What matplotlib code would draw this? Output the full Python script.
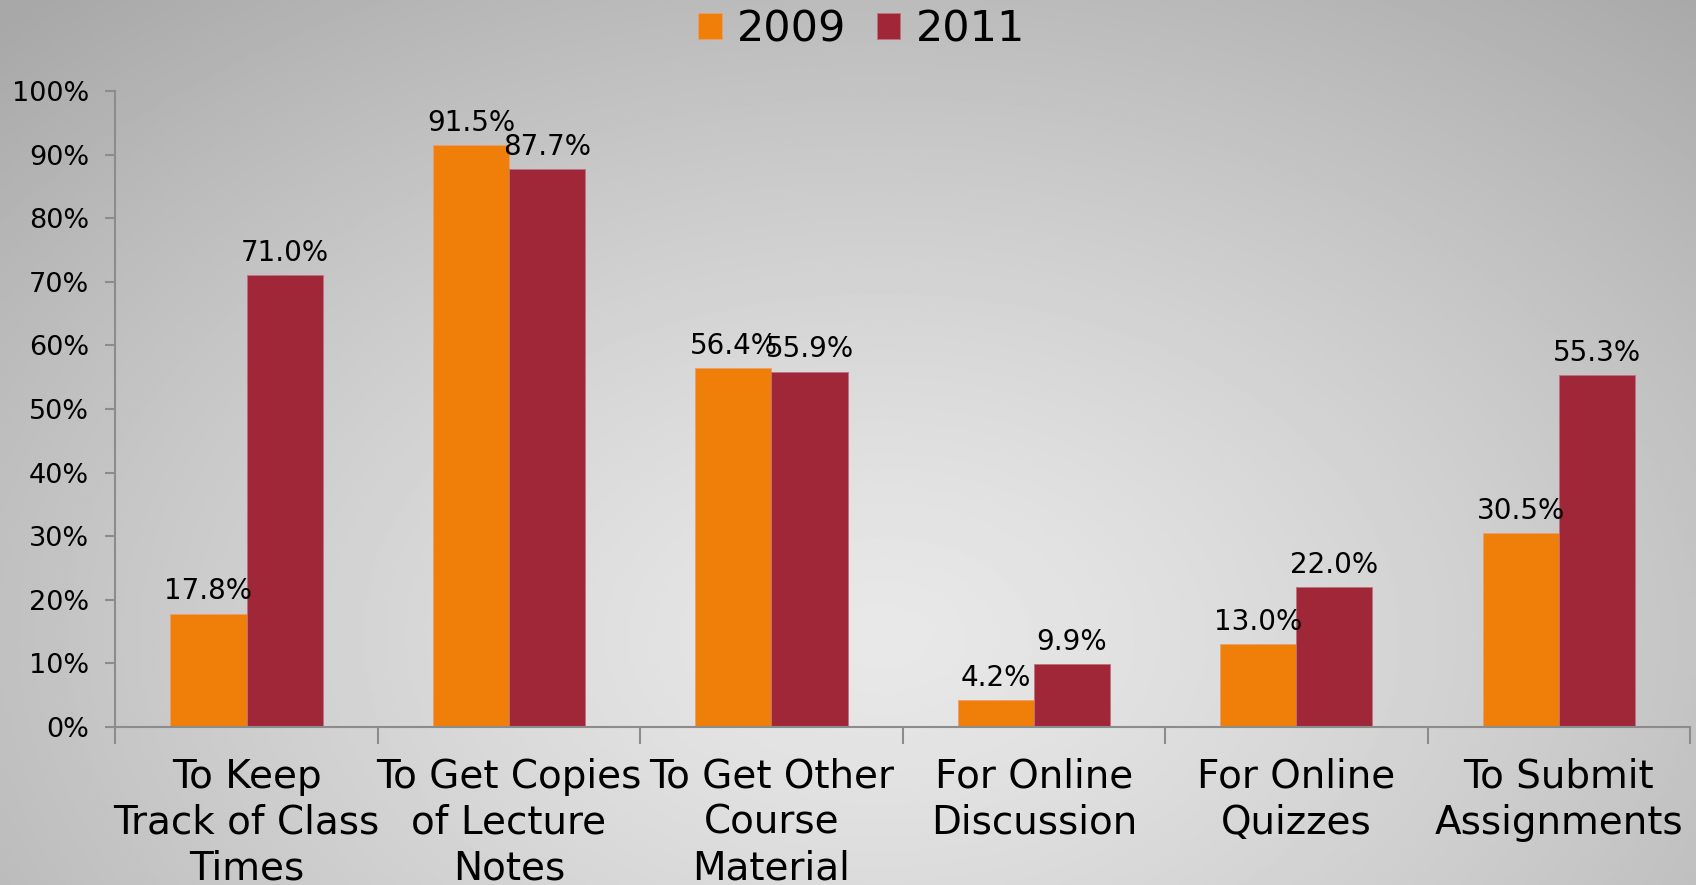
import numpy as np
import matplotlib.pyplot as plt

# DATA
categories = ["To Keep\nTrack of Class\nTimes", "To Get Copies\nof Lecture\nNotes",
              "To Get Other\nCourse\nMaterial", "For Online\nDiscussion",
              "For Online\nQuizzes", "To Submit\nAssignments"]
years = ["2009", "2011"]
vals_2009 = [17.8, 91.5, 56.4, 4.2, 13.0, 30.5]
vals_2011 = [71.0, 87.7, 55.9, 9.9, 22.0, 55.3]
yticks = [0, 10, 20, 30, 40, 50, 60, 70, 80, 90, 100]

C_2009 = '#F07F09'
C_2011 = '#A02737'

plt.rcParams['font.family'] = ['DejaVu Sans']

fig = plt.figure(figsize=(16.96, 8.85), dpi=100)

# BACKGROUND - radial grey gradient
bg = fig.add_axes([0, 0, 1, 1])
gx, gy = np.meshgrid(np.linspace(0, 1, 400), np.linspace(0, 1, 400))
r = np.sqrt(((gx - 0.52) / 0.75) ** 2 + ((gy - 0.72) / 0.95) ** 2)
shade = 0.91 - 0.25 * np.clip(r, 0, 1) ** 1.3
bg.imshow(shade, cmap='gray', vmin=0, vmax=1, extent=[0, 1, 0, 1],
          aspect='auto', origin='upper')
bg.axis('off')

ax = fig.add_axes([0.068, 0.1785, 0.9285, 0.7186])
ax.patch.set_alpha(0)

x = np.arange(len(categories))
w = 0.29
b1 = ax.bar(x - w / 2, vals_2009, w, color=C_2009, edgecolor='#e8a070',
            linewidth=0.6, label=years[0])
b2 = ax.bar(x + w / 2, vals_2011, w, color=C_2011, edgecolor='#c07080',
            linewidth=0.6, label=years[1])

# value labels (the 56.4% / 55.9% pair overlaps in the original too)
for bars, vals in ((b1, vals_2009), (b2, vals_2011)):
    for rect, v in zip(bars, vals):
        ax.annotate(f"{v:.1f}%", (rect.get_x() + rect.get_width() / 2, v),
                    xytext=(0, 6), textcoords='offset points',
                    ha='center', va='bottom', fontsize=20)

ax.set_xlim(-0.5, len(categories) - 0.5)
ax.set_ylim(0, 100)
ax.set_yticks(yticks)
ax.set_yticklabels([f"{t}%" for t in yticks], fontsize=19.5)

# category boundary ticks, labels at centres
ax.set_xticks(np.arange(len(categories) + 1) - 0.5)
ax.set_xticklabels([])
ax.set_xticks(x, minor=True)
ax.set_xticklabels(categories, minor=True, fontsize=28, linespacing=1.27)
ax.tick_params(axis='x', which='minor', length=0, pad=22)
ax.tick_params(axis='x', which='major', length=12, width=1.5, color='#8c8c8c')
ax.tick_params(axis='y', length=7, width=1.5, color='#8c8c8c', pad=12)

for s in ('top', 'right'):
    ax.spines[s].set_visible(False)
for s in ('left', 'bottom'):
    ax.spines[s].set_color('#8c8c8c')
    ax.spines[s].set_linewidth(1.5)

fig.legend(handles=[b1, b2], labels=years, loc='upper center',
           bbox_to_anchor=(0.508, 1.034), ncol=2, frameon=False,
           fontsize=31, handlelength=0.55, handleheight=0.55,
           handletextpad=0.35, columnspacing=0.7)

fig.savefig('out.png', dpi=100)
